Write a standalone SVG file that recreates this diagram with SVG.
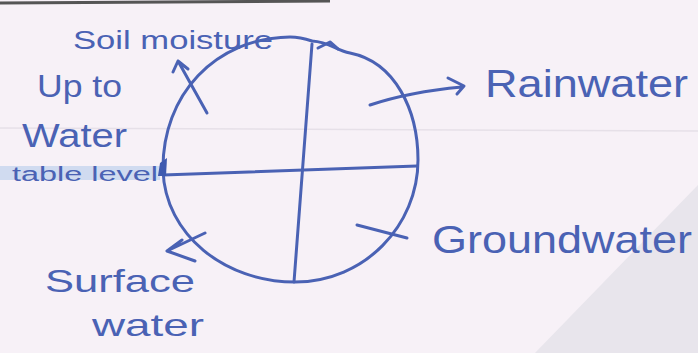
<svg xmlns="http://www.w3.org/2000/svg" width="698" height="353" viewBox="0 0 698 353">
<style>
.ink{fill:none;stroke:#4a62b4;stroke-width:3;stroke-linecap:round;stroke-linejoin:round}
.lbl{font-family:"Liberation Sans","DejaVu Sans",sans-serif;fill:#4a62b4}
</style>
<rect width="698" height="353" fill="#f7f1f7"/>
<polygon points="698,185 698,353 535,353" fill="#e8e5ec"/>
<line x1="0" y1="128" x2="698" y2="131" stroke="#e6e0e8" stroke-width="1.5"/>
<line x1="0" y1="3" x2="330" y2="1" stroke="#555" stroke-width="3"/>
<rect x="0" y="166" width="160" height="14" fill="#a9c6ea" opacity="0.5"/>
<g id="cycle">
<path class="ink" d="M312,41 C330,42 335,50 350,53 C395,62 418,110 418,160 C418,225 365,282 295,282 C225,282 165,235 163,170 C162,95 215,38 290,37 C300,37 306,39 312,41"/>
<path class="ink" d="M318,48 L330,42 L338,49"/>
<path class="ink" d="M312,44 L294,282"/>
<path class="ink" d="M163,175 L417,166"/>
<path d="M160,163 L167,158 L166,176 L158,176 Z" fill="#3f5ab0"/>
</g>
<g id="connectors">
<path class="ink" d="M207,113 L178,61 M173,72 L178,61 L188,69"/>
<path class="ink" d="M370,105 C400,95 430,90 462,87 M448,78 L464,86 L457,94"/>
<path class="ink" d="M357,225 L407,238"/>
<path class="ink" d="M205,233 L167,251 L195,261 M167,251 L182,240"/>
</g>
<g id="soil-moisture"><text class="lbl" x="73" y="49" font-size="26" textLength="200" lengthAdjust="spacingAndGlyphs">Soil moisture</text></g>
<g id="up-to-water-table">
<text class="lbl" x="37" y="97" font-size="32" textLength="85" lengthAdjust="spacingAndGlyphs">Up to</text>
<text class="lbl" x="22" y="147" font-size="34" textLength="105" lengthAdjust="spacingAndGlyphs">Water</text>
<text class="lbl" x="12" y="181" font-size="20" textLength="146" lengthAdjust="spacingAndGlyphs">table level</text>
</g>
<g id="rainwater"><text class="lbl" x="485" y="97" font-size="38" textLength="203" lengthAdjust="spacingAndGlyphs">Rainwater</text></g>
<g id="groundwater"><text class="lbl" x="432" y="253" font-size="38" textLength="260" lengthAdjust="spacingAndGlyphs">Groundwater</text></g>
<g id="surface-water">
<text class="lbl" x="45" y="292" font-size="32" textLength="150" lengthAdjust="spacingAndGlyphs">Surface</text>
<text class="lbl" x="92" y="336" font-size="32" textLength="112" lengthAdjust="spacingAndGlyphs">water</text>
</g>
</svg>
